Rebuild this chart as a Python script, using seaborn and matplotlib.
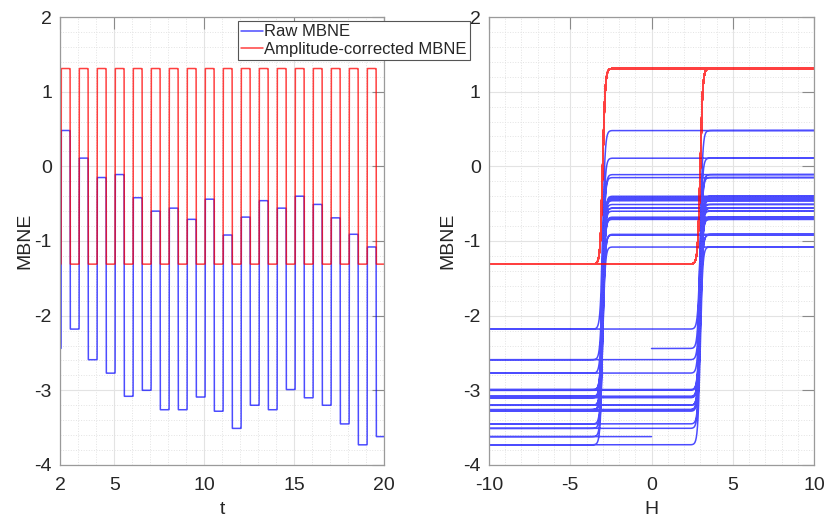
import numpy as np
import pandas as pd
import matplotlib
matplotlib.use("Agg")
import matplotlib.pyplot as plt
from matplotlib.ticker import MultipleLocator
import seaborn as sns

# levels of the raw MBNE, one high and one low per field cycle
raw_high = [0.48, 0.11, -0.15, -0.11, -0.42, -0.60, -0.56, -0.71, -0.44,
            -0.92, -0.68, -0.46, -0.56, -0.40, -0.51, -0.69, -0.91, -1.08]
raw_low = [-2.18, -2.59, -2.77, -3.08, -3.00, -3.26, -3.26, -3.09, -3.28,
           -3.51, -3.20, -3.26, -2.99, -3.10, -3.20, -3.45, -3.73, -3.62]
raw_start = -2.44
corr_level = 1.31

t_first, t_last = 2, 20
field_amp = 10
switch_field = 3
switch_width = 0.15

t_ticks = [2, 5, 10, 15, 20]
h_ticks = [-10, -5, 0, 5, 10]
y_ticks = [-4, -3, -2, -1, 0, 1, 2]

t = np.linspace(t_first, t_last, 90001)
H = field_amp * np.sin(2 * np.pi * t)


def trace(highs, lows, start):
    highs = np.asarray(highs)
    lows = np.asarray(lows)
    k = np.minimum(np.floor(t - t_first).astype(int), len(highs) - 1)
    ph = (t - t_first) - k
    prev_low = np.concatenate([[start], lows[:-1]])[k]
    s_up = 0.5 * (1 + np.tanh((H - switch_field) / switch_width))
    s_dn = 0.5 * (1 + np.tanh((H + switch_field) / switch_width))
    return np.where(ph < 0.25, prev_low + (highs[k] - prev_low) * s_up,
                    np.where(ph < 0.75, lows[k] + (highs[k] - lows[k]) * s_dn, lows[k]))


n = len(raw_high)
df = pd.DataFrame({
    "t": t,
    "H": H,
    "raw": trace(raw_high, raw_low, raw_start),
    "corr": trace([corr_level] * n, [-corr_level] * n, -corr_level),
})

sns.set_style("white")
plt.rcParams["font.family"] = ["Liberation Sans", "DejaVu Sans"]
plt.rcParams["axes.unicode_minus"] = False
txt = "#262626"

fig = plt.figure(figsize=(8.26, 5.2), dpi=100)
ax1 = fig.add_axes([0.073, 0.1058, 0.3923, 0.8615])
ax2 = fig.add_axes([0.592, 0.1058, 0.3935, 0.8615])

for ax, xcol in [(ax1, "t"), (ax2, "H")]:
    sns.lineplot(data=df, x=xcol, y="raw", ax=ax, color="blue", lw=1.1, alpha=0.7,
                 estimator=None, sort=False, label="Raw MBNE")
    sns.lineplot(data=df, x=xcol, y="corr", ax=ax, color="red", lw=1.1, alpha=0.75,
                 estimator=None, sort=False, label="Amplitude-corrected MBNE")

ax1.set_xlim(t_first, t_last)
ax1.set_xticks(t_ticks)
ax1.xaxis.set_minor_locator(MultipleLocator(1))
ax2.set_xlim(-10, 10)
ax2.set_xticks(h_ticks)
ax2.xaxis.set_minor_locator(MultipleLocator(1))

for ax in (ax1, ax2):
    ax.set_ylim(-4, 2)
    ax.set_yticks(y_ticks)
    ax.yaxis.set_minor_locator(MultipleLocator(0.2))
    ax.grid(True, which="major", color="#e3e3e3", lw=0.8)
    ax.grid(True, which="minor", color="#e3e3e3", lw=0.7, ls=":")
    ax.set_axisbelow(True)
    ax.tick_params(which="major", direction="in", length=8.5, width=0.8, color="#8a8a8a",
                   top=True, right=True, labelsize=14, labelcolor=txt, pad=6)
    ax.tick_params(axis="x", which="major", pad=9)
    ax.tick_params(which="minor", length=0)
    for sp in ax.spines.values():
        sp.set_color("#9a9a9a")
        sp.set_linewidth(0.9)
    if ax.get_legend() is not None:
        ax.get_legend().remove()

ax1.set_xlabel("t", fontsize=14, color=txt, labelpad=5)
ax1.set_ylabel("MBNE", fontsize=14, color=txt, labelpad=1)
ax2.set_xlabel("H", fontsize=14, color=txt, labelpad=5)
ax2.set_ylabel("MBNE", fontsize=14, color=txt, labelpad=5)

handles, labels = ax1.get_legend_handles_labels()
leg = ax1.legend(handles[:2], labels[:2], loc="upper left", bbox_to_anchor=(0.548, 0.991),
                 borderaxespad=0, fontsize=12, handlelength=1.3, handletextpad=0.05,
                 borderpad=0.2, labelspacing=0.15, fancybox=False, framealpha=1,
                 edgecolor="#555555")
leg.get_frame().set_linewidth(0.8)
for tx in leg.get_texts():
    tx.set_color(txt)

fig.savefig("out.png", dpi=100)
